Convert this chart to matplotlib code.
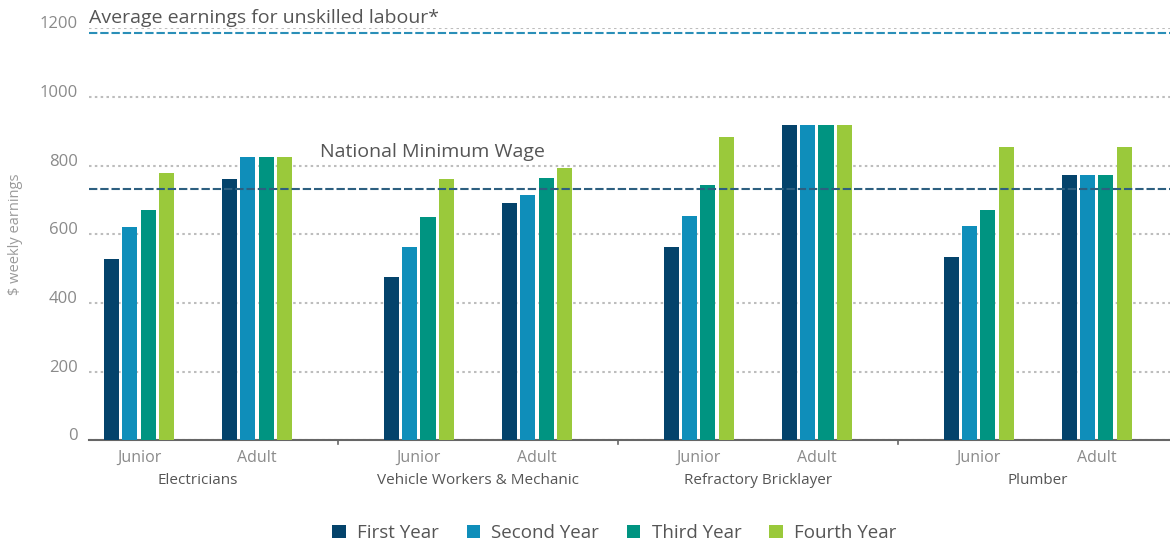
import numpy as np
import matplotlib.pyplot as plt

# data
trades = ['Electricians', 'Vehicle Workers & Mechanic', 'Refractory Bricklayer', 'Plumber']
levels = ['Junior', 'Adult']
years = ['First Year', 'Second Year', 'Third Year', 'Fourth Year']

# one list per year, ordered trade by trade as Junior, Adult
first_year = [528, 761, 476, 691, 563, 918, 534, 773]
second_year = [621, 825, 563, 715, 653, 918, 624, 773]
third_year = [671, 825, 650, 764, 744, 918, 671, 773]
fourth_year = [779, 825, 761, 793, 883, 918, 854, 854]

min_wage = 733
unskilled_avg = 1186

COLORS = ['#04436b', '#0f8eba', '#009481', '#9ac93b']
GROUP_STEP = 2.37
BAR_W = 0.128
BAR_PITCH = 0.155
FONT = ['Open Sans', 'DejaVu Sans']
plt.rcParams['font.family'] = FONT

fig = plt.figure(figsize=(11.7, 5.4), dpi=100)
ax = fig.add_axes([0.076, 0.1846, 0.924, 0.763])

# x position of each Junior/Adult cluster
xpos = np.array([g * GROUP_STEP + s for g in range(len(trades)) for s in range(len(levels))])
series = [first_year, second_year, third_year, fourth_year]
for k, (vals, col, name) in enumerate(zip(series, COLORS, years)):
    ax.bar(xpos + (k - 1.5) * BAR_PITCH, vals, width=BAR_W, color=col, label=name, zorder=3)

ax.set_ylim(0, 1200)
ax.set_xlim(-0.424, 1 + (len(trades) - 1) * GROUP_STEP + 0.62)
ax.set_yticks(np.arange(0, 1201, 200))
ax.yaxis.grid(True, linestyle=(0, (1.2, 1.6)), color='#bdbdbd', linewidth=1.5, zorder=0)
ax.tick_params(axis='y', length=0, pad=8, labelsize=12, labelcolor='#8a8a8a')
for lab in ax.get_yticklabels():
    lab.set_verticalalignment('baseline')
ax.set_ylabel('$ weekly earnings', fontsize=10.5, color='#9a9a9a', labelpad=12)

for side in ['top', 'right', 'left']:
    ax.spines[side].set_visible(False)
ax.spines['bottom'].set_color('#666666')
ax.spines['bottom'].set_linewidth(1.5)

# sub-category labels and group separators
ax.set_xticks(xpos)
ax.set_xticklabels(levels * len(trades))
ax.tick_params(axis='x', length=0, pad=7, labelsize=11.5, labelcolor='#8a8a8a')
seps = [g * GROUP_STEP + 0.5 + GROUP_STEP / 2 for g in range(len(trades) - 1)]
for s in seps:
    ax.plot([s, s], [0, -12], color='#666666', lw=1.2, clip_on=False)
for g, t in enumerate(trades):
    ax.text(g * GROUP_STEP + 0.5, -118, t, ha='center', va='center', fontsize=11, color='#555555')

# reference lines
ax.axhline(unskilled_avg, color='#2a8fb8', lw=1.5, dashes=(4, 1.4), zorder=2)
ax.axhline(min_wage, color='#2d5f80', lw=1.5, dashes=(4, 1.4), zorder=4)
ax.text(-0.424, 1215, 'Average earnings for unskilled labour*', fontsize=14, color='#555555',
        ha='left', va='baseline', clip_on=False)
ax.text(1.53, 825, 'National Minimum Wage', fontsize=14, color='#555555', ha='left', va='baseline')

fig.legend(loc='lower center', bbox_to_anchor=(0.525, -0.035), ncol=4, frameon=False,
           fontsize=13.5, handlelength=0.7, handleheight=0.7, handletextpad=0.6,
           columnspacing=1.5, labelcolor='#555555')

fig.savefig('out.png', dpi=100)
